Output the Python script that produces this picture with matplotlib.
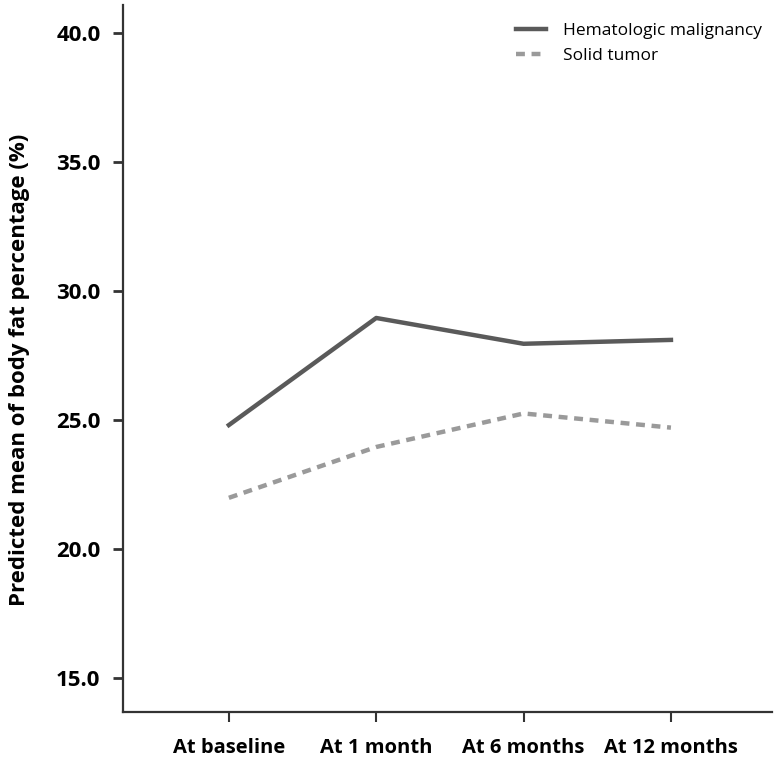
import matplotlib
matplotlib.use("Agg")
import matplotlib.pyplot as plt

categories = ["At baseline", "At 1 month", "At 6 months", "At 12 months"]
hematologic = [24.8, 28.95, 27.95, 28.1]
solid = [21.98, 23.95, 25.25, 24.7]
yticks = [15.0, 20.0, 25.0, 30.0, 35.0, 40.0]

plt.rcParams["font.family"] = ["Open Sans", "DejaVu Sans"]

fig = plt.figure(figsize=(7.77, 7.66), dpi=100)
ax = fig.add_axes([0.158, 0.0705, 0.8356, 0.923])

x = range(len(categories))
ax.plot(x, hematologic, color="#5a5a5a", lw=3.2, label="Hematologic malignancy")
ax.plot(x, solid, color="#9a9a9a", lw=3.2, ls=(0, (2.0, 1.5)), label="Solid tumor")

ax.set_xlim(-0.72, 3.686)
ax.set_ylim(13.68, 41.08)
ax.set_xticks(list(x))
ax.set_xticklabels(categories, fontsize=14.5, fontweight="bold")
ax.set_yticks(yticks)
ax.set_yticklabels([f"{v:.1f}" for v in yticks], fontsize=16, fontweight="bold")
ax.tick_params(axis="y", length=7, width=2, pad=9, color="#333333")
ax.tick_params(axis="x", length=7, width=1.5, pad=12, color="#333333")
ax.set_ylabel("Predicted mean of body fat percentage (%)", fontsize=16,
              fontweight="bold")
ax.yaxis.set_label_coords(-0.143, 0.484)

for s in ("top", "right"):
    ax.spines[s].set_visible(False)
for s in ("left", "bottom"):
    ax.spines[s].set_linewidth(1.6)
    ax.spines[s].set_color("#333333")

ax.legend(frameon=False, loc="upper right", bbox_to_anchor=(1.009, 0.997),
          fontsize=12.5, handlelength=1.7, handletextpad=1.0, labelspacing=0.5)

fig.savefig("out.png", dpi=100)
